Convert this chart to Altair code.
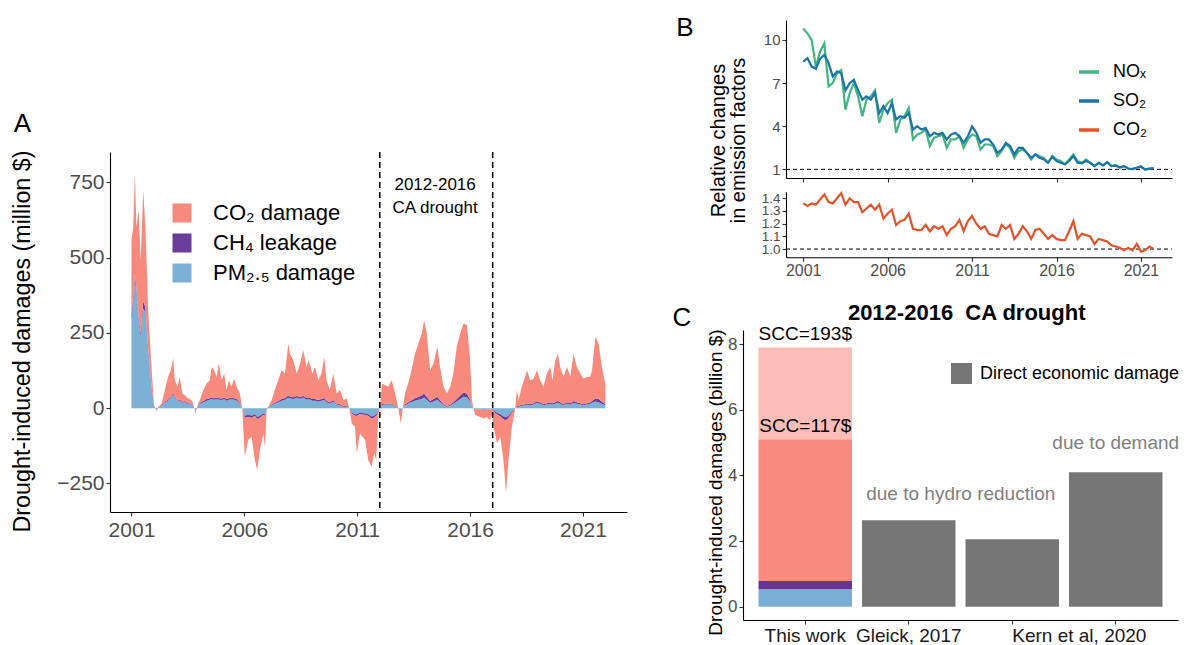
import altair as alt
import pandas as pd

FONT = "Liberation Sans"
GREY_TXT = "#4D4D4D"

# ---------------- Panel A : monthly drought-induced damages ----------------
a_year = [2001.00, 2001.08, 2001.15, 2001.22, 2001.32, 2001.41, 2001.52, 2001.62, 2001.74, 2001.89,
          2002.00, 2002.11, 2002.18, 2002.33, 2002.48, 2002.62, 2002.74, 2002.85, 2002.92,
          2003.04, 2003.14, 2003.25, 2003.36, 2003.51, 2003.66, 2003.73, 2003.84, 2003.93,
          2004.03, 2004.18, 2004.33, 2004.47, 2004.55, 2004.66, 2004.77, 2004.87, 2004.99,
          2005.11, 2005.21, 2005.32, 2005.43, 2005.55, 2005.66, 2005.80, 2005.91,
          2006.02, 2006.17, 2006.32, 2006.47, 2006.57, 2006.69, 2006.84, 2006.91, 2006.99,
          2007.06, 2007.21, 2007.35, 2007.50, 2007.65, 2007.80, 2007.95,
          2008.02, 2008.17, 2008.32, 2008.47, 2008.61, 2008.76, 2008.86,
          2009.01, 2009.13, 2009.28, 2009.42, 2009.54, 2009.64, 2009.79, 2009.94,
          2010.09, 2010.24, 2010.39, 2010.53, 2010.65, 2010.76, 2010.90, 2010.98,
          2011.12, 2011.35, 2011.49, 2011.64, 2011.75, 2011.84, 2011.94,
          2012.01, 2012.09, 2012.23, 2012.38, 2012.53, 2012.68, 2012.82, 2012.93,
          2013.02, 2013.12, 2013.34, 2013.56, 2013.71, 2013.86, 2013.96,
          2014.08, 2014.23, 2014.38, 2014.55, 2014.67, 2014.82, 2014.97,
          2015.12, 2015.26, 2015.41, 2015.56, 2015.71, 2015.86,
          2016.00, 2016.08, 2016.15, 2016.22, 2016.45, 2016.59, 2016.74, 2016.89, 2016.96,
          2017.04, 2017.19, 2017.34, 2017.48, 2017.59, 2017.70, 2017.85,
          2018.00, 2018.07, 2018.15, 2018.29, 2018.44, 2018.52, 2018.66, 2018.81, 2018.96,
          2019.10, 2019.25, 2019.40, 2019.55, 2019.65, 2019.77, 2019.89, 2019.99,
          2020.14, 2020.29, 2020.44, 2020.58, 2020.73, 2020.88,
          2021.03, 2021.18, 2021.32, 2021.40, 2021.55, 2021.69, 2021.84, 2021.99]
# top of the stacked damages (PM2.5 + CH4 + CO2), million $
a_total = [558, 600, 779, 602, 657, 491, 724, 602, 325, 137,
           10, -7, 4, 15, 60, 104, 126, 165, 93,
           71, 104, 49, 43, 32, 27, 15, -18, 10,
           27, 60, 82, 93, 137, 126, 104, 148, 93,
           115, 60, 93, 71, 98, 71, 49, 0,
           -162, -106, -95, -173, -206, -139, -84, -128, -7,
           4, 27, 60, 93, 126, 115, 215,
           181, 159, 115, 148, 193, 137, 159,
           115, 137, 93, 115, 170, 93, 60, 115,
           49, 60, 27, 32, 0, -51, -62, -150,
           -84, -106, -173, -195, -150, -173, -18,
           4, 82, 77, 71, 93, 49, 0, -51,
           0, 49, 104, 181, 215, 248, 292,
           248, 126, 148, 204, 137, 71, 49,
           71, 115, 204, 248, 281, 276,
           159, 27, 0, -23, -29, -34, -29, -40, -20,
           -62, -117, -95, -173, -282, -173, -62,
           0, 60, 27, 71, 104, 126, 93, 98, 126,
           93, 71, 115, 137, 93, 159, 181, 137,
           104, 137, 104, 181, 137, 115,
           98, 104, 104, 126, 237, 215, 137, 80]
a_pm = [290, 360, 430, 390, 290, 240, 330, 320, 195, 65,
        5, -7, 0, 8, 18, 25, 35, 45, 35,
        22, 25, 18, 20, 15, 12, 8, -8, 5,
        15, 20, 25, 28, 30, 28, 30, 28, 27,
        30, 25, 28, 30, 28, 25, 15, 0,
        -25, -22, -25, -20, -30, -25, -18, -20, -3,
        3, 10, 15, 20, 25, 28, 35,
        33, 30, 35, 30, 35, 28, 30,
        25, 25, 22, 25, 28, 20, 15, 22,
        12, 10, 5, 5, 0, -15, -20, -20,
        -15, -18, -20, -28, -25, -20, -10,
        3, 10, 12, 12, 12, 5, 0, -8,
        0, 10, 18, 25, 28, 30, 35,
        28, 18, 22, 28, 20, 10, 5,
        8, 15, 22, 30, 38, 36,
        22, 5, 0, -3, -3, -4, -3, -3, -2,
        -8, -15, -20, -28, -30, -25, -12,
        0, 5, 5, 8, 10, 12, 10, 12, 18,
        15, 10, 12, 15, 12, 15, 18, 15,
        10, 15, 12, 18, 15, 12,
        10, 12, 15, 18, 22, 20, 15, 10]
a_ch4 = [20, 18, 15, 12, 12, 10, 25, 15, 8, 5,
         2, -1, 0, 2, 3, 3, 4, 5, 4,
         3, 3, 3, 3, 2, 2, 1, -1, 1,
         3, 4, 5, 5, 5, 5, 5, 5, 5,
         5, 5, 5, 5, 5, 5, 3, 0,
         -8, -7, -8, -6, -8, -7, -5, -5, -1,
         1, 2, 3, 4, 5, 6, 7,
         6, 6, 6, 6, 6, 6, 6,
         5, 5, 5, 5, 6, 5, 4, 5,
         3, 3, 2, 2, 0, -4, -5, -6,
         -5, -5, -6, -7, -7, -6, -3,
         1, 3, 3, 3, 3, 2, 0, -2,
         0, 3, 5, 8, 10, 12, 14,
         10, 6, 8, 10, 6, 3, 2,
         3, 5, 8, 12, 14, 12,
         6, 2, 0, -1, -1, -1, -1, -1, -1,
         -3, -6, -8, -10, -10, -8, -4,
         0, 2, 2, 3, 3, 4, 3, 4, 5,
         4, 3, 4, 5, 4, 5, 6, 5,
         3, 5, 4, 6, 5, 4,
         3, 4, 5, 6, 10, 10, 6, 4]
a_series = ["CO₂ damage", "CH₄ leakage", "PM₂.₅ damage"]
a_colors = ["#F8897D", "#6B3D9A", "#7CB0D5"]
a_xticks = [2001, 2006, 2011, 2016, 2021]
a_yticks = [-250, 0, 250, 500, 750]
a_xdom = [2000.05, 2022.95]
a_ydom = [-345, 851]
drought_bounds = [2012.0, 2017.0]

# ---------------- Panel B : relative emission factors (quarterly) ----------------
b_year = [2001 + q / 4 for q in range(84)]
b_nox = [10.8, 10.46, 10.0, 8.15, 9.2, 9.77, 6.77, 7.0, 7.7, 7.9, 5.15, 6.3,
         7.0, 6.08, 4.7, 5.85, 6.08, 6.5, 4.23, 5.15, 5.6, 5.85, 3.54, 4.46,
         4.7, 5.27, 3.08, 3.42, 3.54, 3.77, 2.62, 3.2, 3.3, 3.42, 2.5, 3.08,
         3.08, 3.3, 2.5, 3.08, 3.42, 3.3, 2.38, 2.73, 2.73, 2.62, 1.92, 2.27,
         2.73, 2.5, 1.8, 2.27, 2.38, 2.15, 1.69, 2.04, 1.92, 1.8, 1.46, 1.92,
         1.69, 1.58, 1.35, 1.69, 2.04, 1.58, 1.46, 1.69, 1.46, 1.23, 1.46, 1.27,
         1.5, 1.23, 1.27, 1.11, 1.23, 1.04, 1.0, 1.11, 1.23, 0.95, 1.04, 1.11]
b_so2 = [8.5, 8.73, 8.15, 8.0, 8.7, 8.96, 8.4, 7.46, 7.8, 7.7, 6.5, 7.0,
         7.23, 6.5, 5.85, 6.08, 5.85, 6.3, 4.92, 5.4, 4.92, 5.6, 4.46, 4.7,
         4.6, 4.92, 3.77, 4.0, 3.77, 3.88, 3.3, 3.54, 3.42, 3.54, 3.08, 3.42,
         3.54, 3.3, 2.85, 3.3, 4.0, 3.54, 2.85, 3.08, 3.08, 2.73, 2.15, 2.38,
         2.85, 2.62, 2.04, 2.5, 2.5, 2.15, 1.8, 2.04, 1.8, 1.69, 1.46, 1.88,
         1.58, 1.46, 1.35, 1.58, 1.92, 1.46, 1.42, 1.58, 1.46, 1.23, 1.46, 1.27,
         1.5, 1.23, 1.27, 1.15, 1.23, 1.06, 1.04, 1.11, 1.18, 1.0, 1.06, 1.08]
b_co2 = [1.36, 1.34, 1.36, 1.35, 1.39, 1.43, 1.37, 1.36, 1.40, 1.44, 1.35, 1.40,
         1.37, 1.37, 1.29, 1.32, 1.35, 1.31, 1.35, 1.24, 1.28, 1.31, 1.19, 1.22,
         1.23, 1.28, 1.16, 1.15, 1.15, 1.19, 1.14, 1.18, 1.16, 1.18, 1.11, 1.16,
         1.18, 1.23, 1.14, 1.22, 1.26, 1.20, 1.16, 1.18, 1.12, 1.11, 1.10, 1.19,
         1.16, 1.19, 1.08, 1.12, 1.18, 1.14, 1.08, 1.15, 1.16, 1.12, 1.08, 1.11,
         1.08, 1.07, 1.07, 1.14, 1.22, 1.08, 1.12, 1.11, 1.10, 1.04, 1.08, 1.07,
         1.06, 1.03, 1.02, 1.01, 0.99, 1.01, 0.99, 1.04, 0.98, 0.99, 1.02, 1.00]
b_names = ["NOₓ", "SO₂", "CO₂"]
b_colors = ["#45B483", "#1B75A7", "#E4532B"]
b_xticks = [2001, 2006, 2011, 2016, 2021]
b_xdom = [1999.98, 2022.84]
b_top_dom = [0.40, 11.39]
b_top_ticks = [1, 4, 7, 10]
b_bot_dom = [0.935, 1.452]
b_bot_ticks = [1.0, 1.1, 1.2, 1.3, 1.4]

# ---------------- Panel C : 2012-2016 drought totals ----------------
c_studies = ["This work", "Gleick, 2017", "Kern hydro", "Kern demand"]
c_this_parts = ["PM₂.₅", "CH₄", "CO₂ (SCC=117$)", "CO₂ (SCC=193$)"]
c_this_vals = [0.54, 0.25, 4.31, 2.80]
c_direct_studies = ["Gleick, 2017", "Kern hydro", "Kern demand"]
c_direct_vals = [2.64, 2.06, 4.10]
c_kinds = c_this_parts + ["Direct economic damage"]
c_colors = ["#7AAFD3", "#6A3494", "#F88A7E", "#FBBDB7", "#767676"]
c_ydom = [-0.40, 8.43]
c_yticks = [0, 2, 4, 6, 8]


def axis(orient, offset, size, values=None, fmt=None, title=None, **kw):
    args = dict(orient=orient, offset=offset, labelFontSize=size, grid=False,
                domainColor="black", domainWidth=1.1, tickColor="#333333", tickWidth=1.1,
                tickSize=4, labelColor=GREY_TXT, labelFont=FONT, labelPadding=2,
                titleFont=FONT, titleColor="black", titleFontWeight="normal",
                labelOverlap=False, labelFlush=False, title=title)
    if values is not None:
        args["values"] = values
    if fmt is not None:
        args["format"] = fmt
    args.update(kw)
    return alt.Axis(**args)


# ----- Panel A -----
rowsA = []
for t, tot, pm, ch in zip(a_year, a_total, a_pm, a_ch4):
    rowsA.append({"t": t, "series": a_series[2], "lo": 0, "hi": pm})
    rowsA.append({"t": t, "series": a_series[1], "lo": pm, "hi": pm + ch})
    rowsA.append({"t": t, "series": a_series[0], "lo": pm + ch, "hi": tot})
dfA = pd.DataFrame(rowsA)

xA = alt.Scale(domain=a_xdom, range=[110, 627], nice=False, zero=False)
yA = alt.Scale(domain=a_ydom, range=[512, 152], nice=False, zero=False)
axA_x = axis("bottom", -133, 21, a_xticks, "d", labelPadding=3)
axA_y = axis("left", -110, 21, a_yticks, title="Drought-induced damages (million $)",
             titleFontSize=23.3, titleX=-88, titleY=341, titleBaseline="middle")

areaA = alt.Chart(dfA).mark_area(interpolate="linear", strokeWidth=0).encode(
    x=alt.X("t:Q", scale=xA, axis=axA_x),
    y=alt.Y("hi:Q", scale=yA, axis=axA_y),
    y2="lo:Q",
    color=alt.Color("series:N", scale=alt.Scale(domain=a_series, range=a_colors),
                    legend=alt.Legend(orient="none", legendX=171, legendY=202, title=None,
                                      symbolType="square", symbolSize=361, symbolStrokeWidth=0,
                                      labelFontSize=22, labelFont=FONT, labelColor="black",
                                      rowPadding=8, labelOffset=20, padding=0, labelLimit=400)),
)
ruleA = alt.Chart(pd.DataFrame({"t": drought_bounds})).mark_rule(
    color="black", strokeDash=[6, 4], strokeWidth=1.5).encode(
    x=alt.X("t:Q", scale=xA, axis=axA_x),
    y=alt.YDatum(a_ydom[1], scale=yA, axis=axA_y),
    y2=alt.Y2Datum(a_ydom[0]),
)
noteA = alt.Chart(pd.DataFrame({"label": ["2012-2016\nCA drought"]})).mark_text(
    fontSize=17, lineBreak="\n", lineHeight=23, align="center", baseline="middle",
    font=FONT, color="black").encode(
    x=alt.XDatum(2014.45, scale=xA, axis=axA_x),
    y=alt.YDatum(742, scale=yA, axis=axA_y),
    text="label:N",
)
panelA = alt.layer(areaA, ruleA, noteA)

# ----- Panel B -----
xB = alt.Scale(domain=b_xdom, range=[786, 1172], nice=False, zero=False)
yBt = alt.Scale(domain=b_top_dom, range=[178, 20], nice=False, zero=False)
yBb = alt.Scale(domain=b_bot_dom, range=[257.3, 191.7], nice=False, zero=False)
axBt_x = axis("bottom", -467, 15, b_xticks, labels=False)
axBt_y = axis("left", -786, 15, b_top_ticks, "d",
              title=["Relative changes", "in emission factors"], titleFontSize=20,
              titleX=-68, titleY=140, titleBaseline="middle", titleLineHeight=20)
axBb_x = axis("bottom", -387.7, 16, b_xticks, "d", labelPadding=1)
axBb_y = axis("left", -786, 13.5, b_bot_ticks, ".1f")

dfB = pd.DataFrame({"t": b_year * 2, "v": b_nox + b_so2,
                    "pol": [b_names[0]] * len(b_year) + [b_names[1]] * len(b_year)})
linesB = alt.Chart(dfB).mark_line(strokeWidth=2.2).encode(
    x=alt.X("t:Q", scale=xB, axis=axBt_x),
    y=alt.Y("v:Q", scale=yBt, axis=axBt_y),
    color=alt.Color("pol:N", scale=alt.Scale(domain=b_names, range=b_colors),
                    legend=alt.Legend(orient="none", legendX=1077, legendY=60, title=None,
                                      symbolType="stroke", symbolSize=400, symbolStrokeWidth=3.5,
                                      labelFontSize=18, labelFont=FONT, labelColor="black",
                                      rowPadding=8, labelOffset=12, padding=0)),
)
refBt = alt.Chart(pd.DataFrame({"v": [1.0]})).mark_rule(
    color="black", strokeDash=[4, 3], strokeWidth=1).encode(
    y=alt.Y("v:Q", scale=yBt, axis=axBt_y),
    x=alt.XDatum(b_xdom[0], scale=xB, axis=axBt_x),
    x2=alt.X2Datum(b_xdom[1]),
)
panelBt = alt.layer(refBt, linesB)

lineCO2 = alt.Chart(pd.DataFrame({"t": b_year, "v": b_co2})).mark_line(
    strokeWidth=2.2, color=b_colors[2]).encode(
    x=alt.X("t:Q", scale=xB, axis=axBb_x),
    y=alt.Y("v:Q", scale=yBb, axis=axBb_y),
)
refBb = alt.Chart(pd.DataFrame({"v": [1.0]})).mark_rule(
    color="black", strokeDash=[4, 3], strokeWidth=1).encode(
    y=alt.Y("v:Q", scale=yBb, axis=axBb_y),
    x=alt.XDatum(b_xdom[0], scale=xB, axis=axBb_x),
    x2=alt.X2Datum(b_xdom[1]),
)
panelBb = alt.layer(refBb, lineCO2)

# ----- Panel C -----
rowsC = []
base = 0.0
for part, val in zip(c_this_parts, c_this_vals):
    rowsC.append({"study": c_studies[0], "kind": part, "lo": base, "hi": base + val})
    base += val
for st, val in zip(c_direct_studies, c_direct_vals):
    rowsC.append({"study": st, "kind": "Direct economic damage", "lo": 0.0, "hi": val})
dfC = pd.DataFrame(rowsC)

xC = alt.Scale(domain=c_studies, range=[743, 1178], paddingInner=0.097, paddingOuter=0.15)
yC = alt.Scale(domain=c_ydom, range=[620, 330], nice=False, zero=False)

label_expr = ("datum.value == 'Kern hydro' ? 'Kern et al, 2020' : "
              "datum.value == 'Kern demand' ? '' : datum.value")
axC_x = axis("bottom", -25, 19, labelExpr=label_expr, labelColor="#1A1A1A", labelAngle=0,
             labelAlign={"condition": {"test": "datum.value == 'Kern hydro'", "value": "left"},
                         "value": "center"})
axC_y = axis("left", -743, 17, c_yticks, "d", title="Drought-induced damages (billion $)",
             titleFontSize=19, titleX=-28, titleY=482, titleBaseline="middle")

barsC = alt.Chart(dfC).mark_bar().encode(
    x=alt.X("study:N", scale=xC, sort=c_studies, axis=axC_x),
    y=alt.Y("hi:Q", scale=yC, axis=axC_y),
    y2="lo:Q",
    color=alt.Color("kind:N", scale=alt.Scale(domain=c_kinds, range=c_colors),
                    legend=alt.Legend(orient="none", legendX=951, legendY=363, title=None,
                                      values=["Direct economic damage"],
                                      symbolType="square", symbolSize=441, symbolStrokeWidth=0,
                                      labelFontSize=18, labelFont=FONT, labelColor="black",
                                      labelOffset=8, padding=0, labelLimit=400)),
)
scc_tops = [sum(c_this_vals[:3]), sum(c_this_vals)]
sccC = alt.Chart(pd.DataFrame({"study": [c_studies[0]] * 2, "y": scc_tops,
                               "label": ["SCC=117$", "SCC=193$"]})).mark_text(
    baseline="bottom", dy=-3, fontSize=19, font=FONT, color="black").encode(
    x=alt.X("study:N", scale=xC, sort=c_studies, axis=axC_x),
    y=alt.Y("y:Q", scale=yC, axis=axC_y),
    text="label:N",
)
hydroC = alt.Chart(pd.DataFrame({"study": [c_studies[1]], "label": ["due to hydro reduction"]})).mark_text(
    baseline="middle", dx=52, fontSize=19, font=FONT, color="#7F7F7F").encode(
    x=alt.X("study:N", scale=xC, sort=c_studies, axis=axC_x),
    y=alt.YDatum(3.43, scale=yC, axis=axC_y),
    text="label:N",
)
demandC = alt.Chart(pd.DataFrame({"study": [c_studies[3]], "label": ["due to demand"]})).mark_text(
    baseline="middle", fontSize=19, font=FONT, color="#7F7F7F").encode(
    x=alt.X("study:N", scale=xC, sort=c_studies, axis=axC_x),
    y=alt.YDatum(4.99, scale=yC, axis=axC_y),
    text="label:N",
)
panelC = alt.layer(barsC, sccC, hydroC, demandC)

# ----- titles and panel letters -----
titleC = alt.Chart(pd.DataFrame({"label": ["2012-2016\u00a0\u00a0CA drought"]})).mark_text(
    fontSize=22, fontWeight="bold", font=FONT, color="black", align="center", baseline="middle").encode(
    x=alt.value(966.7), y=alt.value(313), text="label:N")
letA = alt.Chart(pd.DataFrame({"label": ["A"]})).mark_text(
    fontSize=26, font=FONT, color="black", align="center", baseline="middle").encode(
    x=alt.value(22.5), y=alt.value(124), text="label:N")
letB = alt.Chart(pd.DataFrame({"label": ["B"]})).mark_text(
    fontSize=26, font=FONT, color="black", align="center", baseline="middle").encode(
    x=alt.value(685), y=alt.value(27.5), text="label:N")
letC = alt.Chart(pd.DataFrame({"label": ["C"]})).mark_text(
    fontSize=26, font=FONT, color="black", align="center", baseline="middle").encode(
    x=alt.value(682), y=alt.value(318), text="label:N")

chart = alt.layer(panelA, panelBt, panelBb, panelC, titleC, letA, letB, letC).resolve_scale(
    x="independent", y="independent", color="independent"
).resolve_axis(
    x="independent", y="independent"
).resolve_legend(
    color="independent"
).properties(
    width=1194, height=645, autosize=alt.AutoSizeParams(type="none"), padding=0,
    background="white",
).configure_view(strokeWidth=0)

chart.save("out.html", embed_options={"renderer": "svg", "actions": False})
